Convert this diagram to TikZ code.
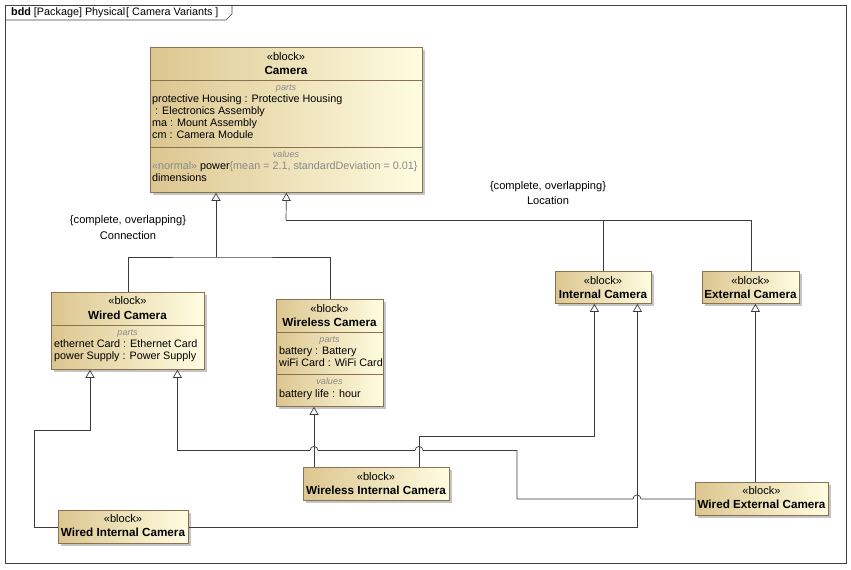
\documentclass[tikz,border=0pt]{standalone}
\usepackage{fontspec}
\setmainfont{Liberation Sans}
\usetikzlibrary{arrows.meta,shadows}
\definecolor{blockedge}{HTML}{8C7150}
\definecolor{blockdark}{HTML}{DCC690}
\definecolor{blocklight}{HTML}{FFFDE1}
\definecolor{lbl}{HTML}{8A8A8A}
\definecolor{linecol}{HTML}{3C3C3C}
\begin{document}
\begin{tikzpicture}[x=1pt,y=-1pt,font=\fontsize{10.8}{12}\selectfont,
  block/.style={draw=blockedge,line width=0.8pt,left color=blockdark,right color=blocklight,anchor=north west,inner sep=0pt,
    drop shadow={shadow xshift=3pt,shadow yshift=-3pt,fill=black!45,opacity=0.5}},
  stereo/.style={inner sep=0pt,text height=8pt,text depth=2pt,font=\fontsize{11.1}{12}\selectfont},
  bname/.style={inner sep=0pt,text height=8pt,text depth=2pt,font=\fontsize{11.7}{13}\selectfont\bfseries},
  comp/.style={inner sep=0pt,text height=6.5pt,text depth=1.5pt,text=lbl,font=\fontsize{9}{10}\selectfont\itshape},
  attr/.style={inner sep=0pt,text height=8pt,text depth=2pt,anchor=west},
  sep/.style={draw=blockedge,line width=0.8pt},
  wire/.style={draw=linecol,line width=0.7pt},
  gen/.style={draw=linecol,line width=0.7pt,-{Triangle[open,length=8pt,width=9pt]}}]
\useasboundingbox (0,0) rectangle (851,570);
% frame
\draw[black!75,line width=0.7pt] (5,5) rectangle (846,563);
\draw[black!75,line width=0.7pt] (5,20) -- (226,20) -- (232,14) -- (232,5);
\node[anchor=base west,inner sep=0pt] (title) at (11,16) {\textbf{bdd} [Package] Physical\kern1pt[ Camera Variants ]};

% Camera
\node[block,minimum width=272pt,minimum height=145pt] (camera) at (150,47) {};
\node[stereo] (camera-st) at (286,57) {«block»};
\node[bname] (camera-nm) at (286,71) {Camera};
\draw[sep] (150,80) -- (422,80);
\node[comp] (camera-pt) at (286,88) {parts};
\node[attr] (camera-a1) at (152,99) {protective Housing : Protective Housing};
\node[attr] (camera-a2) at (155,111) {: Electronics Assembly};
\node[attr] (camera-a3) at (152,123) {ma : Mount Assembly};
\node[attr] (camera-a4) at (152,135) {cm : Camera Module};
\draw[sep] (150,147) -- (422,147);
\node[comp] (camera-vl) at (286,155) {values};
\node[attr] (camera-v1) at (152,166) {\textcolor{lbl}{«normal»} power\textcolor{lbl}{\{mean = 2.1, standardDeviation = 0.01\}}};
\node[attr] (camera-v2) at (152,178) {dimensions};

% Wired Camera
\node[block,minimum width=153pt,minimum height=77pt] (wired) at (51,292) {};
\node[stereo] (wired-st) at (127.5,301) {«block»};
\node[bname] (wired-nm) at (127.5,316) {Wired Camera};
\draw[sep] (51,325) -- (204,325);
\node[comp] (wired-pt) at (127.5,333) {parts};
\node[attr] (wired-a1) at (54,344) {ethernet Card : Ethernet Card};
\node[attr] (wired-a2) at (54,356) {power Supply : Power Supply};

% Wireless Camera
\node[block,minimum width=107pt,minimum height=107pt] (wireless) at (276,299) {};
\node[stereo] (wireless-st) at (329.5,309) {«block»};
\node[bname] (wireless-nm) at (329.5,323) {Wireless Camera};
\draw[sep] (276,332) -- (383,332);
\node[comp] (wireless-pt) at (329.5,340) {parts};
\node[attr] (wireless-a1) at (279,351) {battery : Battery};
\node[attr] (wireless-a2) at (279,363) {wiFi Card : WiFi Card};
\draw[sep] (276,374) -- (383,374);
\node[comp] (wireless-vl) at (329.5,382) {values};
\node[attr] (wireless-v1) at (279,394) {battery life : hour};

% Internal / External Camera
\node[block,minimum width=96pt,minimum height=32pt] (intcam) at (555,271) {};
\node[stereo] (intcam-st) at (603,281) {«block»};
\node[bname] (intcam-nm) at (603,295) {Internal Camera};
\node[block,minimum width=97pt,minimum height=32pt] (extcam) at (702,271) {};
\node[stereo] (extcam-st) at (750.5,281) {«block»};
\node[bname] (extcam-nm) at (750.5,295) {External Camera};

% combined variants
\node[block,minimum width=146pt,minimum height=33pt] (wirelessint) at (303,467) {};
\node[stereo] (wirelessint-st) at (376,477) {«block»};
\node[bname] (wirelessint-nm) at (376,491) {Wireless Internal Camera};
\node[block,minimum width=133pt,minimum height=33pt] (wiredext) at (695,482) {};
\node[stereo] (wiredext-st) at (761.5,491) {«block»};
\node[bname] (wiredext-nm) at (761.5,505) {Wired External Camera};
\node[block,minimum width=130pt,minimum height=33pt] (wiredint) at (58,510) {};
\node[stereo] (wiredint-st) at (123,519) {«block»};
\node[bname] (wiredint-nm) at (123,533) {Wired Internal Camera};

% generalization sets
\node[stereo] (conn-c) at (128,220) {\{complete, overlapping\}};
\node[stereo] (conn-n) at (128,236) {Connection};
\node[stereo] (loc-c) at (548,186) {\{complete, overlapping\}};
\node[stereo] (loc-n) at (548,201) {Location};
\coordinate (connection) at (216,257);
\coordinate (location) at (286,220);
\draw[wire] (wired.north) |- (connection) -| (wireless.north);
\draw[gen] (connection) -- (connection |- camera.south);
\draw[wire] (intcam.north) |- (location);
\draw[wire] (extcam.north) |- (location);
\draw[gen] (location) -- (camera.south);

% specializations
\draw[gen] ([xshift=11pt]wirelessint.north west) -- ([xshift=11pt]wirelessint.north west |- wireless.south);
\draw[gen] ([xshift=-30pt]wirelessint.north east) -- ++(0,-31) -| ([xshift=-9pt]intcam.south);
\draw[gen] (wiredext.west) -- ++(-54,0) arc[start angle=0,end angle=180,radius=4pt] -- ++(-116,0) -- ++(0,-48.5)
  -- ++(-94,0) arc[start angle=0,end angle=180,radius=4pt] -- ++(-97,0) arc[start angle=0,end angle=180,radius=4pt]
  -| ([xshift=49.5pt]wired.south);
\draw[gen] ([xshift=-6.5pt]wiredext.north) -- ([xshift=-6.5pt]wiredext.north |- extcam.south);
\draw[gen] (wiredint.west) -- ++(-24,0) -- ++(0,-96.5) -| ([xshift=39pt]wired.south west);
\draw[gen] (wiredint.east) -| ([xshift=34pt]intcam.south);
\end{tikzpicture}
\end{document}
